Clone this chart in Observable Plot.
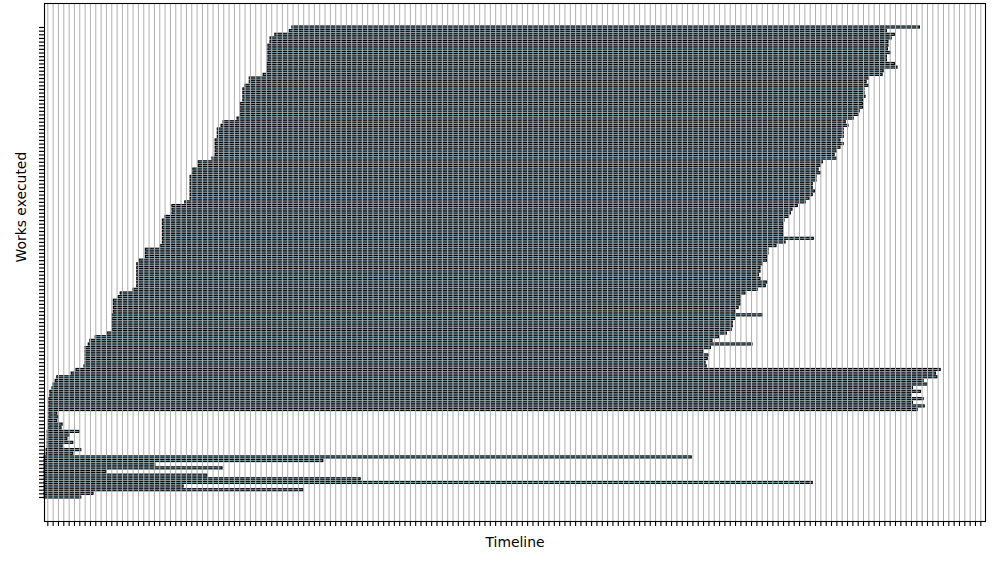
<!DOCTYPE html>
<html>
<head>
<meta charset="utf-8">
<script src="https://cdn.jsdelivr.net/npm/d3@7"></script>
<script src="https://cdn.jsdelivr.net/npm/@observablehq/plot@0.6"></script>
<style>
  html, body { margin: 0; padding: 0; background: #ffffff; }
  #chart { width: 1000px; height: 565px; }
</style>
</head>
<body>
<div id="chart"></div>
<script>
// Works (row 0 = bottom), start and end on the timeline (time units)
const workStart = [
  0, 0, 0, 0, 0, 0, 0, 0, 0, 0,
  0, 0, 0.4, 0.4, 0.6, 0.6, 0.6, 0.6, 0.6, 0.8,
  0.8, 0.8, 0.9, 0.9, 0.9, 0.9, 0.9, 0.9, 1.1, 1.1,
  1.5, 1.7, 2.1, 2.4, 5.1, 6.0, 7.5, 7.7, 7.7, 7.7,
  7.7, 7.7, 8.3, 8.6, 9.6, 11.8, 12.8, 12.8, 12.8, 12.8,
  12.8, 13.0, 13.0, 13.0, 13.0, 13.9, 14.3, 16.7, 17.4, 17.4,
  17.4, 17.4, 17.4, 17.4, 17.4, 17.8, 19.0, 19.0, 19.0, 21.8,
  22.2, 22.2, 22.2, 22.2, 22.2, 22.2, 22.2, 22.7, 24.0, 24.0,
  24.0, 26.4, 27.4, 27.4, 27.4, 27.4, 27.4, 27.4, 27.4, 27.9,
  27.9, 28.9, 28.9, 31.5, 32.1, 32.1, 32.1, 32.1, 32.1, 32.5,
  32.5, 32.5, 33.2, 33.6, 36.2, 36.8, 36.8, 36.8, 36.8, 37.3,
  37.3, 37.3, 37.3, 37.7, 38.5, 38.5, 41.1, 41.8, 41.8, 41.8,
  42.0, 42.0, 42.0, 42.0, 42.0, 42.4, 42.4, 43.3, 46.0, 46.5
];
const workEnd = [
  6.9, 9.2, 48.6, 26.1, 144.1, 59.3, 30.6, 11.6, 33.4, 20.8,
  52.3, 121.4, 5.4, 6.9, 3.4, 5.4, 4.3, 4.7, 6.6, 3.2,
  3.4, 2.4, 2.6, 2.4, 163.8, 165.1, 162.9, 164.9, 162.5, 164.4,
  162.9, 165.7, 164.9, 167.5, 167.2, 168.1, 124.2, 124.0, 124.4, 124.6,
  123.6, 125.0, 132.8, 125.3, 126.5, 128.0, 128.9, 129.1, 129.1, 129.6,
  134.7, 129.6, 130.2, 130.6, 130.6, 130.6, 131.5, 133.8, 135.3, 135.5,
  134.3, 134.0, 134.3, 134.3, 134.7, 135.5, 135.6, 135.8, 135.8, 137.3,
  139.0, 144.3, 138.6, 138.6, 138.6, 138.6, 138.8, 139.6, 140.0, 140.3,
  141.3, 142.8, 143.5, 144.1, 144.5, 144.1, 144.1, 144.8, 144.8, 145.6,
  145.2, 145.6, 146.0, 148.6, 148.2, 148.6, 149.3, 149.9, 149.3, 149.9,
  149.9, 149.9, 150.8, 150.3, 151.8, 152.7, 152.9, 153.5, 153.5, 153.5,
  154.0, 153.8, 153.8, 154.6, 154.2, 154.6, 157.2, 157.4, 160.0, 159.5,
  158.0, 158.0, 158.7, 158.2, 158.3, 158.3, 158.9, 159.5, 158.0, 164.2
];
const timelineTicks = d3.range(0.62, 176, 1);   // unlabeled ticks
const workTicks = d3.range(workStart.length);    // unlabeled ticks
const xLabel = "Timeline";
const yLabel = "Works executed";

const works = workStart.map((s, i) => ({work: i, start: s, end: workEnd[i]}));

const chart = Plot.plot({
  width: 1000,
  height: 565,
  marginLeft: 44,
  marginRight: 15,
  marginTop: 3,
  marginBottom: 44,
  style: {fontFamily: "DejaVu Sans, sans-serif", fontSize: "13.9px", background: "#ffffff", color: "#000"},
  x: {domain: [0, 176.5]},
  y: {domain: [-6.59, 135.59]},
  marks: [
    Plot.rect(works, {
      x1: "start", x2: "end",
      y1: d => d.work - 0.28, y2: d => d.work + 0.28,
      fill: "#6a9cb4", stroke: "#000", strokeWidth: 1.1
    }),
    Plot.ruleX(timelineTicks, {stroke: "#b0b0b0", strokeWidth: 1}),
    Plot.axisX({ticks: timelineTicks, tickFormat: () => "", tickSize: 5, label: null, stroke: "#000", strokeWidth: 1.1}),
    Plot.axisY({ticks: workTicks, tickFormat: () => "", tickSize: 5, label: null, stroke: "#000", strokeWidth: 1.2}),
    Plot.frame({stroke: "#000", strokeWidth: 1.1}),
    Plot.text([xLabel], {frameAnchor: "bottom", dy: 21, lineAnchor: "middle", fontSize: 13.9, fill: "#000"}),
    Plot.text([yLabel], {frameAnchor: "left", dx: -23, rotate: -90, lineAnchor: "middle", fontSize: 13.9, fill: "#000"})
  ]
});
document.getElementById("chart").appendChild(chart);
</script>
</body>
</html>
